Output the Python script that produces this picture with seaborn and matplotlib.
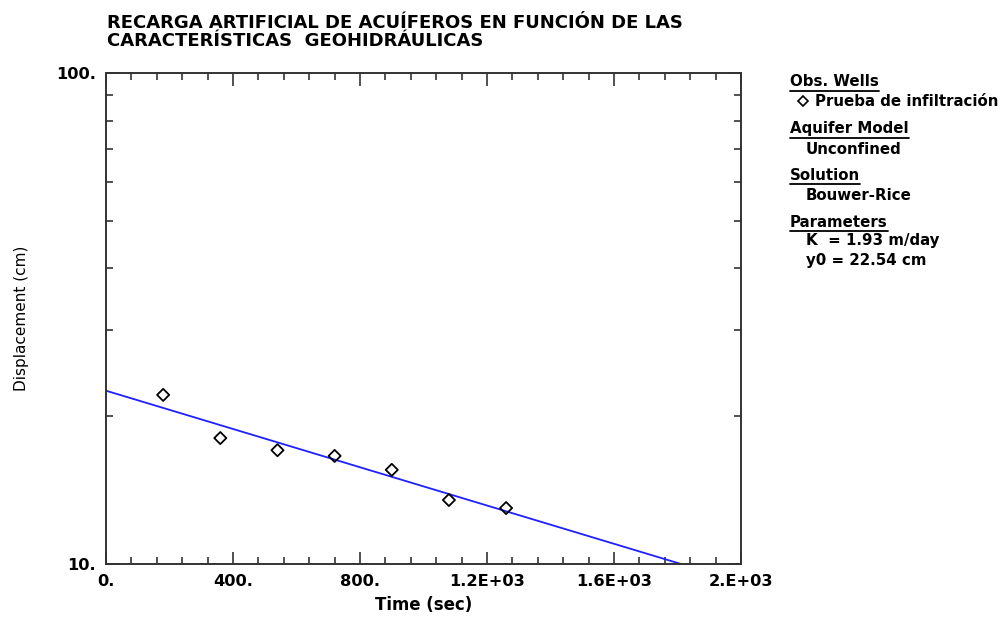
import matplotlib
matplotlib.use("Agg")
import matplotlib.pyplot as plt
from matplotlib.lines import Line2D
from matplotlib.ticker import FixedLocator, FixedFormatter, NullFormatter, MultipleLocator
import seaborn as sns
import pandas as pd

# ---- data ----
obs_time = [180, 360, 540, 720, 900, 1080, 1260]
obs_disp = [22.1, 18.05, 17.05, 16.6, 15.55, 13.5, 13.0]
fit_time = [0, 1811]
fit_disp = [22.54, 10.0]

x_ticks = [0, 400, 800, 1200, 1600, 2000]
x_labels = ["0.", "400.", "800.", "1.2E+03", "1.6E+03", "2.E+03"]
y_ticks = [10, 100]
y_labels = ["10.", "100."]

title = "RECARGA ARTIFICIAL DE ACUÍFEROS EN FUNCIÓN DE LAS\nCARACTERÍSTICAS  GEOHIDRÁULICAS"
panel = [
    ("Obs. Wells", True, 0),
    ("Prueba de infiltración", False, 1),
    ("Aquifer Model", True, 0),
    ("Unconfined", False, 2),
    ("Solution", True, 0),
    ("Bouwer-Rice", False, 2),
    ("Parameters", True, 0),
    ("K  = 1.93 m/day", False, 2),
    ("y0 = 22.54 cm", False, 2),
]

sns.set_style("ticks")
plt.rcParams["font.family"] = ["DejaVu Sans"]
plt.rcParams["text.color"] = "black"
plt.rcParams["axes.labelcolor"] = "black"
plt.rcParams["xtick.color"] = "black"
plt.rcParams["ytick.color"] = "black"

fig = plt.figure(figsize=(10.01, 6.17), dpi=100)
ax = fig.add_axes([0.1059, 0.0859, 0.6344, 0.7958])

obs = pd.DataFrame({"t": obs_time, "d": obs_disp})
fit = pd.DataFrame({"t": fit_time, "d": fit_disp})

sns.lineplot(data=fit, x="t", y="d", ax=ax, color="#1f1fff", lw=1.3)
sns.scatterplot(data=obs, x="t", y="d", ax=ax, marker="D", s=38,
                facecolor="none", edgecolor="black", linewidth=1.3, zorder=5)

ax.set_yscale("log")
ax.set_xlim(0, 2000)
ax.set_ylim(10, 100)

ax.xaxis.set_major_locator(FixedLocator(x_ticks))
ax.xaxis.set_major_formatter(FixedFormatter(x_labels))
ax.xaxis.set_minor_locator(MultipleLocator(80))
ax.yaxis.set_major_locator(FixedLocator(y_ticks))
ax.yaxis.set_major_formatter(FixedFormatter(y_labels))
ax.yaxis.set_minor_locator(FixedLocator([20, 30, 40, 50, 60, 70, 80, 90]))
ax.yaxis.set_minor_formatter(NullFormatter())

for s in ax.spines.values():
    s.set_visible(True)
    s.set_linewidth(1.4)
    s.set_color("#333333")

ax.tick_params(which="both", direction="in", top=True, right=True,
               color="#333333", labelcolor="black", width=1.2)
ax.tick_params(which="major", length=9, labelsize=11.7, pad=7)
ax.tick_params(which="minor", length=5)
for lab in ax.get_xticklabels() + ax.get_yticklabels():
    lab.set_fontweight("bold")

ax.set_xlabel("Time (sec)", fontsize=11.9, fontweight="bold", labelpad=5, color="black")
ax.set_ylabel("Displacement (cm)", fontsize=11, labelpad=20, color="black")

fig.text(0.107, 1 - 14 / 617, title, fontsize=13.0, fontweight="bold",
         va="top", ha="left", linespacing=1.0, color="black")

# right-hand info panel
ys = [82, 101, 129, 149, 175, 196, 222, 241, 261]
r = fig.canvas.get_renderer()
for (txt, header, indent), ypx in zip(panel, ys):
    y = 1 - ypx / 617
    if header:
        x = 790 / 1001
    elif indent == 1:
        x = 815 / 1001
    else:
        x = 806 / 1001
    t = fig.text(x, y, txt, fontsize=10.8, fontweight="bold", va="center", ha="left",
                 color="black")
    if header:
        bb = t.get_window_extent(renderer=r)
        yl = (bb.y0 - 1) / fig.bbox.height
        fig.add_artist(Line2D([bb.x0 / fig.bbox.width, bb.x1 / fig.bbox.width], [yl, yl],
                              color="black", lw=1.3))
    if indent == 1:
        fig.add_artist(Line2D([803 / 1001], [y], marker="D", markersize=5,
                              markerfacecolor="none", markeredgecolor="black",
                              markeredgewidth=1.2, linestyle="none"))

fig.savefig("out.png", dpi=100)
